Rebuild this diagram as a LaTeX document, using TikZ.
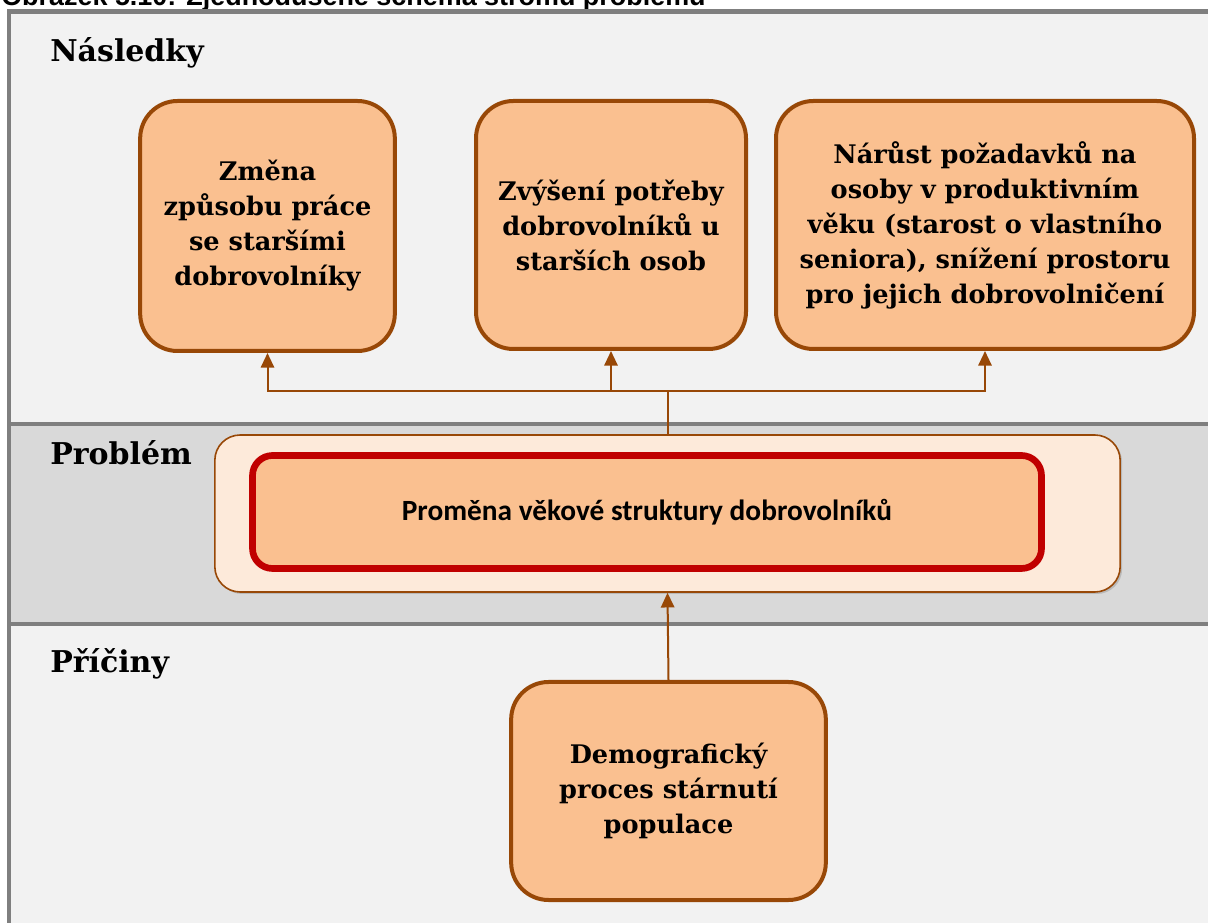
\documentclass[tikz,border=0pt]{standalone}
\usepackage{fontspec}
\setmainfont{DejaVu Serif}
\newfontfamily\capfont{Liberation Sans}
\newfontfamily\probfont{Carlito}
\usetikzlibrary{positioning,arrows.meta,shadows}

\definecolor{frameGray}{HTML}{7F7F7F}
\definecolor{sectGray}{HTML}{F2F2F2}
\definecolor{bandGray}{HTML}{D9D9D9}
\definecolor{boxFill}{HTML}{FAC090}
\definecolor{boxLine}{HTML}{984807}
\definecolor{probFill}{HTML}{FDEADA}
\definecolor{probRed}{HTML}{C00000}

\begin{document}
\begin{tikzpicture}[x=0.75pt,y=-0.75pt,
	box/.style={rectangle,rounded corners=28pt,draw=boxLine,line width=3pt,fill=boxFill,align=center,inner sep=0pt,font=\fontsize{19.2}{26.25}\selectfont\bfseries},
	heading/.style={anchor=base west,inner sep=0pt,font=\fontsize{22.5}{27}\selectfont\bfseries},
	sep/.style={draw=frameGray,line width=3.5pt},
	conn/.style={draw=boxLine,line width=1.5pt},
	tip/.style={conn,-{Triangle[length=11pt,width=10pt]}}]
	
	\useasboundingbox (0,0) rectangle (1208,923);
	\clip (0,0) rectangle (1208,923);
	\fill[white] (0,0) rectangle (1208,923);
	
	% caption and sections
	\node[anchor=base west,inner sep=0pt,font=\capfont\fontsize{20.2}{24}\selectfont\bfseries] (caption) at (1,6) {Obrázek 5.10: Zjednodušené schéma stromu problémů};
	\fill[sectGray] (9,11.5) rectangle (1220,935);
	\fill[bandGray] (9,424) rectangle (1220,624);
	\draw[sep] (9,935) -- (9,11.5) -- (1220,11.5);
	\draw[sep] (9,424) -- (1220,424);
	\draw[sep] (9,624) -- (1220,624);
	
	\node[heading] (hEffects) at (50,62) {Následky};
	\node[heading] (hProblem) at (50,465) {Problém};
	\node[heading] (hCauses) at (50,672) {Příčiny};
	
	% effects
	\node[box,minimum width=191pt,minimum height=187.5pt] (eff1) at (267.5,226) {Změna\\způsobu práce\\se staršími\\dobrovolníky};
	\node[box,minimum width=202.5pt,minimum height=186pt] (eff2) at (611,225) {Zvýšení potřeby\\dobrovolníků u\\starších osob};
	\node[box,minimum width=313.5pt,minimum height=186pt] (eff3) at (985,225) {Nárůst požadavků na\\osoby v produktivním\\věku (starost o vlastního\\seniora), snížení prostoru\\pro jejich dobrovolničení};
	
	% problem
	\node[rectangle,rounded corners=19pt,draw=boxLine,line width=1.2pt,fill=probFill,minimum width=679pt,minimum height=117.75pt,drop shadow={shadow xshift=1.5pt,shadow yshift=-1.5pt,opacity=0.35}] (outer) at (667.5,513.5) {};
	\node[rectangle,rounded corners=15pt,draw=probRed,line width=5pt,fill=boxFill,minimum width=591.75pt,minimum height=84.75pt,font=\probfont\fontsize{22}{26}\selectfont\bfseries] (core) at (647,512) {Proměna věkové struktury dobrovolníků};
	
	% cause
	\node[box,minimum width=236pt,minimum height=163.5pt] (cause) at (668.5,791) {Demografický\\proces stárnutí\\populace};
	
	% connectors
	\draw[conn] (outer.north) -- ++(0,-43) coordinate (split);
	\draw[tip] (split) -| (eff1.south);
	\draw[tip] (split) -| (eff2.south);
	\draw[tip] (split) -| (eff3.south);
	\draw[tip] (cause.north) -- (outer.south);
	
\end{tikzpicture}
\end{document}
